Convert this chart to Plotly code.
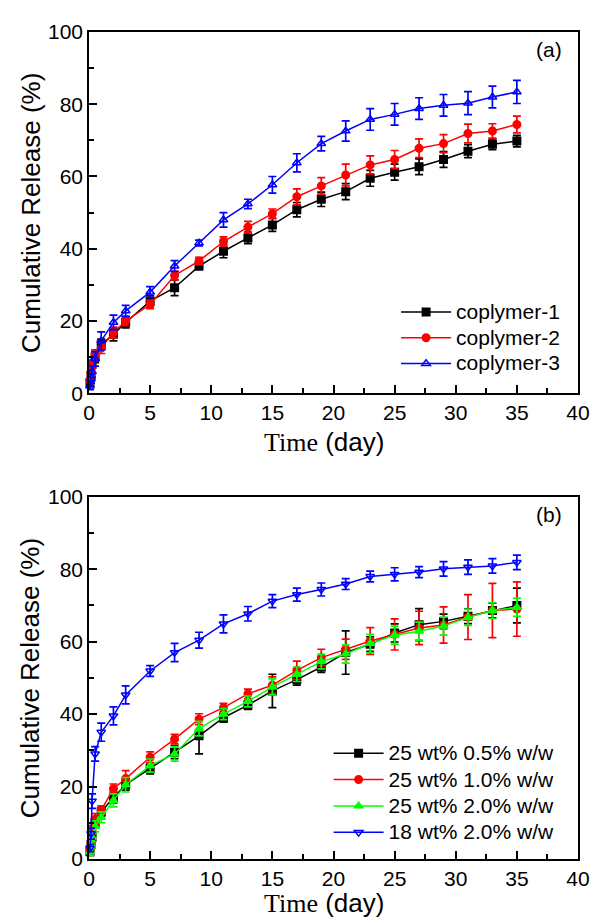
import plotly.graph_objects as go
from plotly.subplots import make_subplots

# time points (day)
days = [0.083, 0.167, 0.25, 0.5, 1, 2, 3, 5, 7, 9, 11, 13, 15, 17, 19, 21, 23, 25, 27, 29, 31, 33, 35]

# ---- panel (a) ----
cop1 = [3, 5, 8, 10, 13.5, 16.3, 19.6, 25.5, 29.2, 35.2, 39.3, 43, 46.6, 50.8, 53.7, 55.8, 59.5, 61.2, 62.7, 64.7, 67, 68.9, 69.8]
cop1_err = [1, 1, 1.2, 1.5, 1.5, 1.8, 1.5, 1.5, 2.2, 1, 1.8, 1.6, 1.8, 2, 2, 2.2, 2.2, 2.2, 2.2, 2.2, 1.8, 1.5, 1.6]
cop2 = [3.5, 5.5, 8, 10.5, 12.5, 16.8, 20, 24.6, 32.6, 36.6, 42, 46, 49.7, 54.4, 57.4, 60.4, 63.2, 64.7, 67.8, 69.1, 71.9, 72.6, 74.4]
cop2_err = [1, 1, 1.2, 1.5, 1.5, 1.5, 1.3, 1.2, 1.2, 1, 1.3, 1.6, 1.3, 2.2, 2.3, 3, 2.5, 2.5, 2.6, 2.5, 2.6, 2, 2.3]
cop3 = [2, 4, 6, 9.5, 14.5, 19.6, 22.8, 28, 35.2, 41.6, 48, 52.4, 57.7, 63.8, 69.1, 72.6, 75.8, 77.2, 78.8, 79.7, 80.3, 82, 83.4]
cop3_err = [1, 1.2, 1.5, 2, 2.5, 2, 1.5, 1.5, 1.5, 0.8, 2, 1.3, 2.3, 2.5, 2, 2.8, 3, 3, 3, 3, 3.2, 3, 3.2]

# ---- panel (b) ----
w05 = [2, 4, 6, 10, 13, 17, 20.5, 25, 29.5, 34, 39, 42.5, 46.4, 49.5, 53, 57, 59.3, 62.4, 64.7, 65.6, 67, 68.6, 70]
w05_err = [1, 1, 1.2, 1.5, 1.2, 1.5, 1.5, 1.5, 1.8, 5, 1.2, 1.2, 4.6, 1.5, 1.5, 6, 2, 2.5, 4.4, 2, 2, 2, 4.8]
w10 = [2.5, 4.5, 8, 11, 13.5, 19.4, 22.2, 28.1, 33.1, 38.6, 41.8, 45.6, 48, 52.1, 55.6, 57.9, 60.2, 62, 63.8, 64.6, 66.8, 68.6, 69]
w10_err = [1, 1, 1.2, 1.5, 1.2, 1.3, 2.2, 1.5, 1.3, 1.5, 1.2, 1.3, 2.3, 2.5, 2.3, 2.8, 3.7, 4.3, 4.6, 5, 6.2, 7.5, 7.5]
w20 = [2, 4, 6, 9, 11.5, 16.2, 20.5, 25.8, 29, 36, 40, 43.5, 47.5, 51, 54.5, 56.6, 59.5, 61.8, 62.9, 64.3, 66.7, 68.6, 69.5]
w20_err = [1, 1, 1.2, 1.5, 1.5, 1.8, 2, 1.8, 2, 2, 1.5, 1.5, 2.2, 2, 2, 2.5, 2.5, 2.5, 2.5, 2.5, 2.2, 2.2, 2.5]
w18 = [3, 7, 16, 29, 35, 39.5, 45.3, 51.9, 57, 60.4, 64.9, 67.7, 71.2, 73, 74.4, 75.9, 78, 78.6, 79.2, 80.1, 80.6, 80.9, 81.9]
w18_err = [1, 1.5, 2, 2, 2.5, 2.5, 2.5, 1.5, 2.5, 2.2, 2.5, 2, 1.8, 1.8, 1.8, 1.5, 1.5, 1.8, 1.5, 2, 2, 2, 2]

fig = make_subplots(rows=2, cols=1, vertical_spacing=0.125)


def add(y, err, name, color, symbol, row, legend):
    fig.add_trace(go.Scatter(
        x=days, y=y, name='<span style="font-size:21px">' + name + '</span>',
        mode='lines+markers',
        line=dict(color=color, width=1.5),
        marker=dict(symbol=symbol, size=7.5, color=color, line=dict(color=color, width=1.5)),
        error_y=dict(type='data', array=err, color=color, thickness=1.7, width=4),
        cliponaxis=False, legend=legend,
    ), row=row, col=1)


add(cop1, cop1_err, 'coplymer-1', 'black', 'square', 1, 'legend')
add(cop2, cop2_err, 'coplymer-2', '#ff0000', 'circle', 1, 'legend')
add(cop3, cop3_err, 'coplymer-3', '#0000ff', 'triangle-up-open', 1, 'legend')

add(w05, w05_err, '25 wt% 0.5% w/w', 'black', 'square', 2, 'legend2')
add(w10, w10_err, '25 wt% 1.0% w/w', '#ff0000', 'circle', 2, 'legend2')
add(w20, w20_err, '25 wt% 2.0% w/w', '#00ff00', 'triangle-up', 2, 'legend2')
add(w18, w18_err, '18 wt% 2.0% w/w', '#0000ff', 'triangle-down-open', 2, 'legend2')

axis_common = dict(
    showline=True, linecolor='black', linewidth=1.5, mirror=True,
    ticks='inside', ticklen=8, tickwidth=1.5, tickcolor='black',
    showgrid=False, zeroline=False,
    tickfont=dict(family='Liberation Sans, Arial', size=21, color='black'),
)
for r in (1, 2):
    fig.update_xaxes(range=[0, 40], dtick=5, tick0=0,
                     minor=dict(ticks='inside', dtick=2.5, ticklen=5, tickwidth=1.5, tickcolor='black'),
                     row=r, col=1, **axis_common)
    fig.update_yaxes(range=[0, 100], dtick=20, tick0=0,
                     minor=dict(ticks='inside', dtick=10, ticklen=5, tickwidth=1.5, tickcolor='black'),
                     row=r, col=1, **axis_common)

fig.update_layout(
    xaxis=dict(domain=[0, 1]),
    yaxis=dict(domain=[0.5632, 1]),
    xaxis2=dict(domain=[0, 1]),
    yaxis2=dict(domain=[0, 0.438]),
)

legend_style = dict(
    bgcolor='rgba(0,0,0,0)', borderwidth=0, itemwidth=50,
    xanchor='left', yanchor='top', tracegroupgap=0,
)
fig.update_layout(
    legend=dict(x=0.628, y=0.683, font=dict(family='Liberation Sans, Arial', size=17.5, color='black'),
                **legend_style),
    legend2=dict(x=0.49, y=0.15, font=dict(family='Liberation Sans, Arial', size=18, color='black'),
                 **legend_style),
)

title_font = dict(family='Liberation Sans, Arial', size=26, color='black')
label_font = dict(family='Liberation Sans, Arial', size=21, color='black')
time_title = '<span style="font-family:Liberation Serif">Time</span> (day)'
annots = [
    dict(text='(a)', x=0.94, y=0.979, font=label_font),
    dict(text='(b)', x=0.94, y=0.417, font=label_font),
    dict(text=time_title, x=0.48, y=0.504, font=title_font),
    dict(text=time_title, x=0.48, y=-0.053, font=title_font),
    dict(text='Cumulative Release (%)', x=-0.12, y=0.7816, textangle=-90, font=title_font),
    dict(text='Cumulative Release (%)', x=-0.12, y=0.219, textangle=-90, font=title_font),
]
for a in annots:
    a.update(xref='paper', yref='paper', showarrow=False, xanchor='center', yanchor='middle')

# page body adds an 8 px margin, so the figure is sized 8 px smaller
fig.update_layout(
    annotations=annots,
    width=594, height=913,
    margin=dict(l=81, r=23, t=20, b=62),
    paper_bgcolor='white', plot_bgcolor='white',
)

fig.write_html("out.html")
